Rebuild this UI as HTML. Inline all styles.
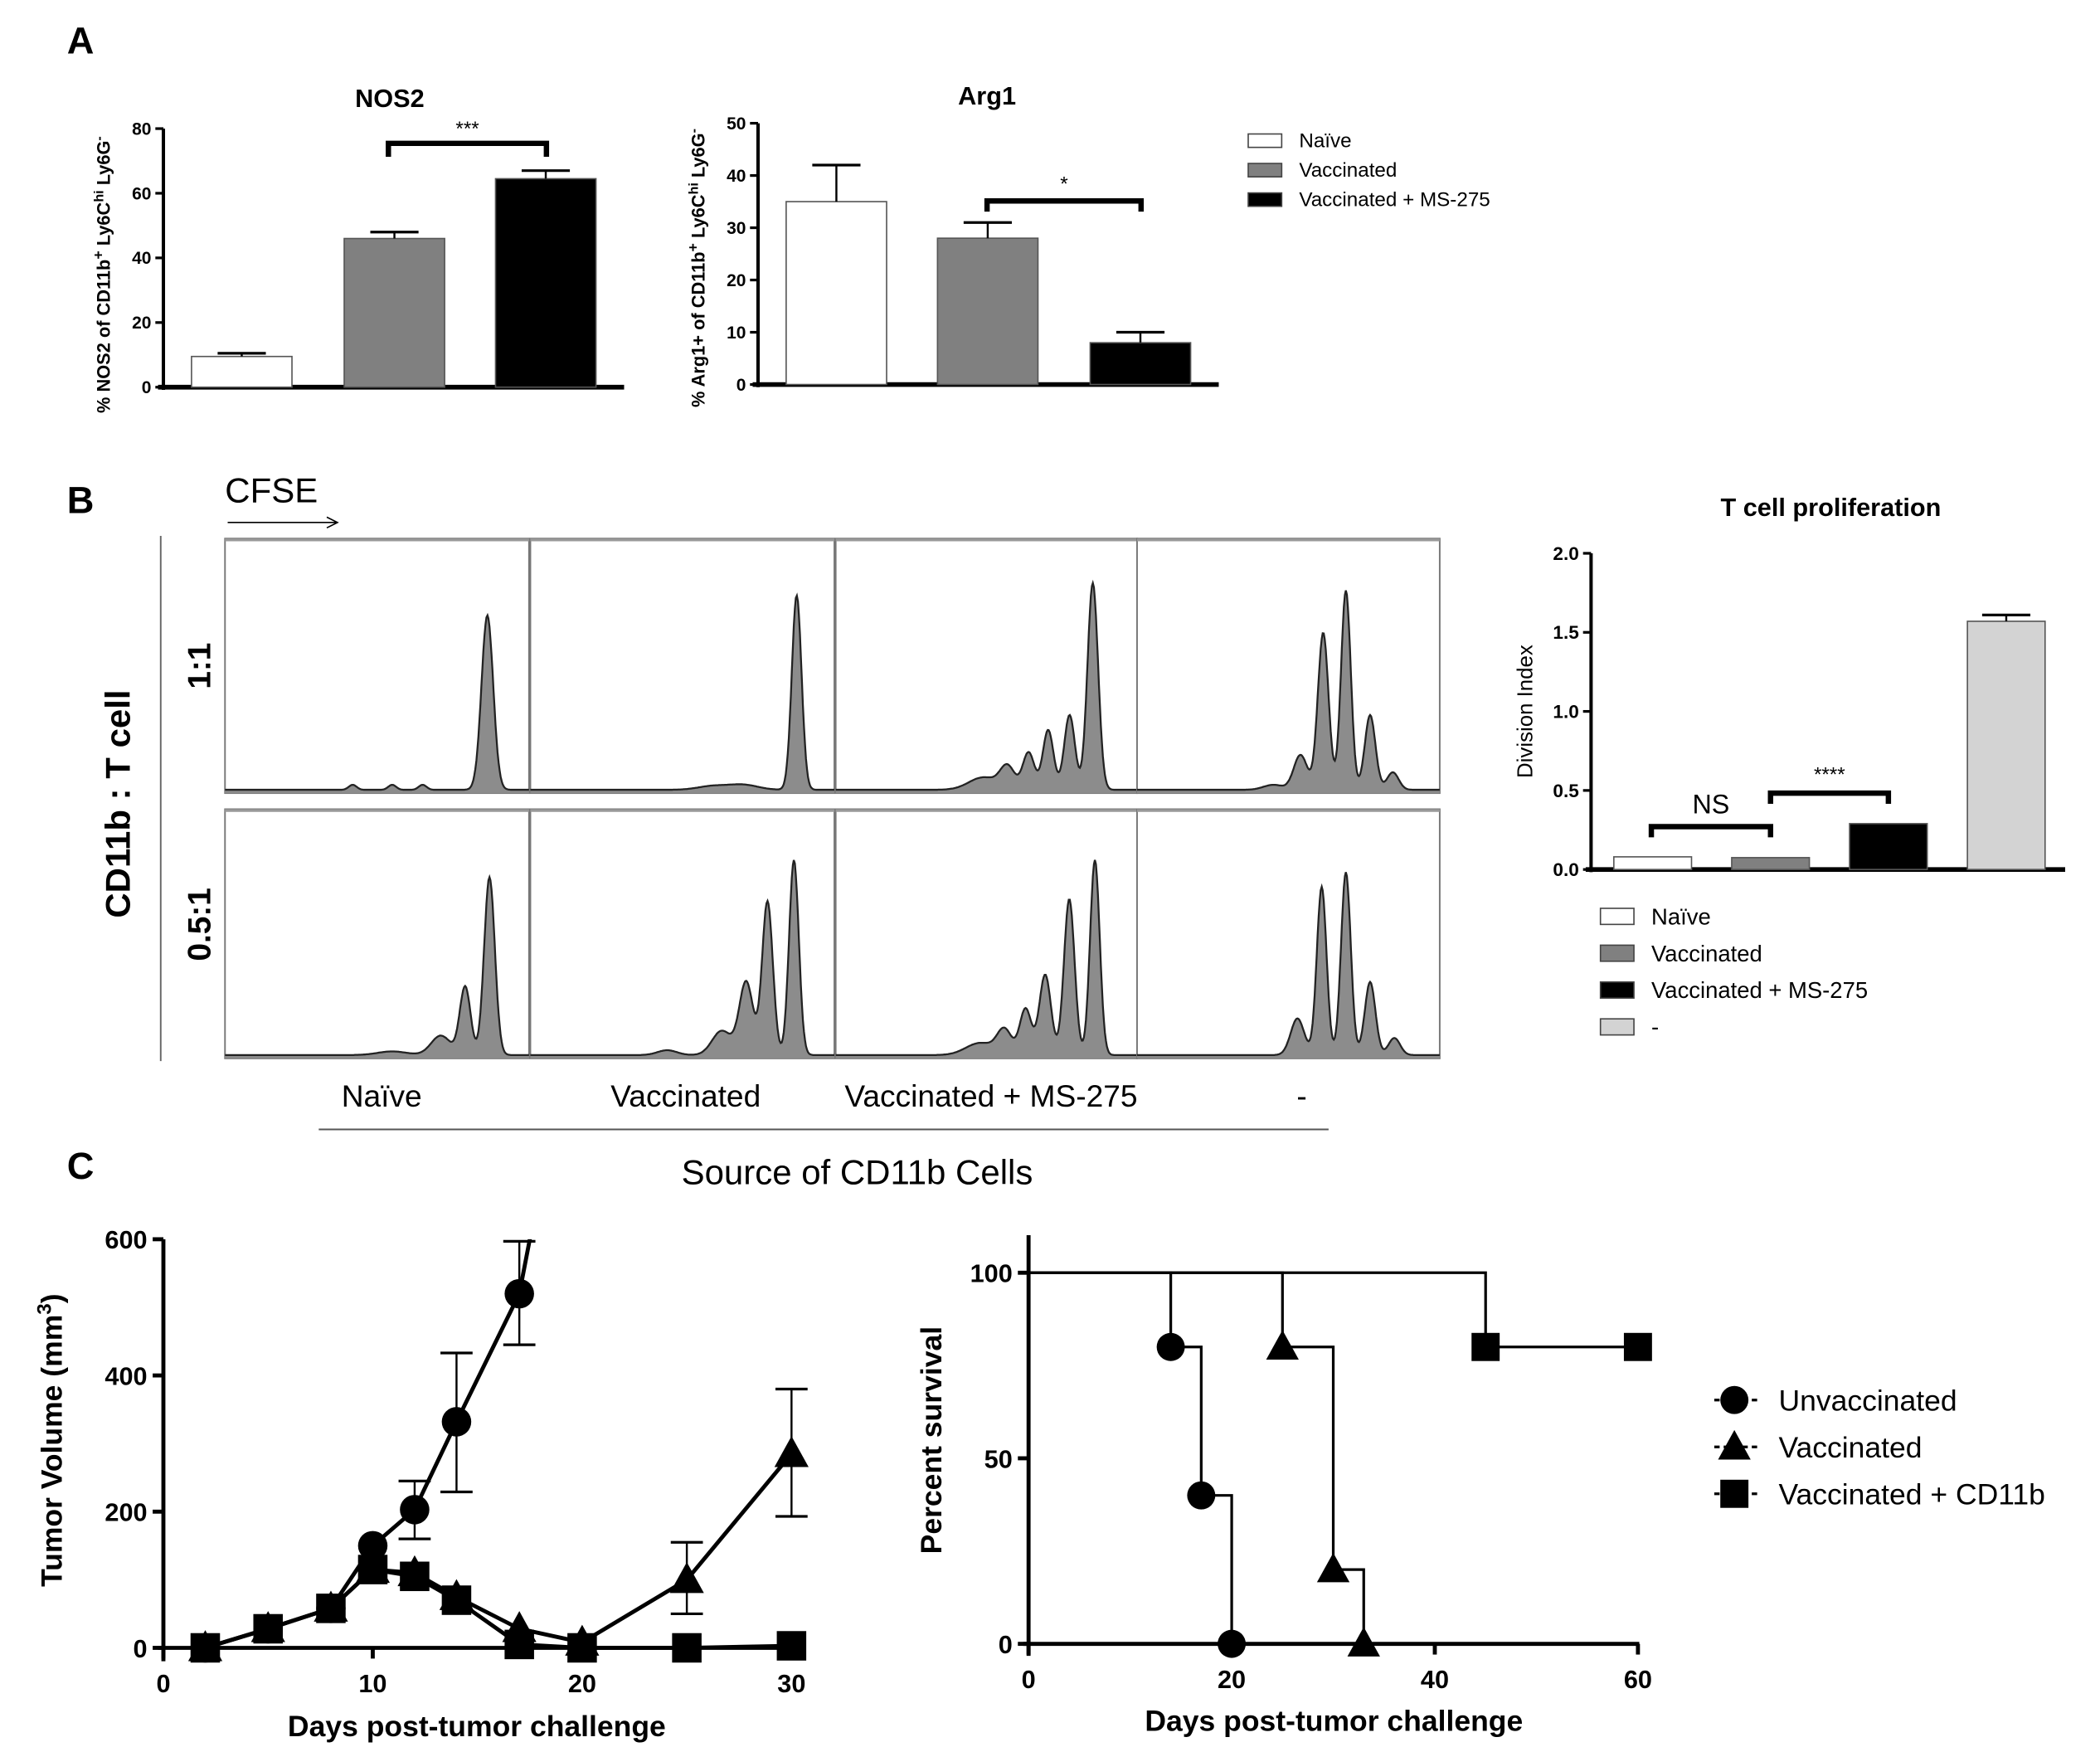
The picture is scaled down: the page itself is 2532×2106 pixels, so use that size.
<!DOCTYPE html>
<html><head><meta charset="utf-8">
<style>
html,body{margin:0;padding:0;background:#fff;}
svg{display:block;font-family:"Liberation Sans",Arial,sans-serif;}
</style></head>
<body>
<svg id="fig" width="2532" height="2106" viewBox="0 0 1568 1304" preserveAspectRatio="none" xmlns="http://www.w3.org/2000/svg"></svg>
<script>
// ---------- DATA ----------
const groupsA = ["Naïve","Vaccinated","Vaccinated + MS-275"];
const nos2Values = [9.5, 46, 64.5];
const nos2Errors = [1, 2, 2.5];
const nos2Ticks = [0,20,40,60,80];
const arg1Values = [35, 28, 8];
const arg1Errors = [7, 3, 2];
const arg1Ticks = [0,10,20,30,40,50];
const groupsB = ["Naïve","Vaccinated","Vaccinated + MS-275","-"];
const divValues = [0.08, 0.075, 0.29, 1.57];
const divErrors = [0, 0, 0, 0.04];
const divTicks = ["0.0","0.5","1.0","1.5","2.0"];
// histogram peaks per panel: [position (0-1), height (0-1), width]
const histRow1 = [
 [[0.863,0.70,0.012],[0.42,0.02,0.008],[0.55,0.02,0.008],[0.65,0.02,0.008]],
 [[0.876,0.78,0.010],[0.6,0.015,0.03],[0.7,0.02,0.03]],
 [[0.853,0.83,0.011],[0.776,0.30,0.011],[0.705,0.24,0.011],[0.64,0.15,0.012],[0.57,0.09,0.015],[0.49,0.05,0.03]],
 [[0.69,0.80,0.010],[0.615,0.63,0.011],[0.77,0.30,0.011],[0.54,0.14,0.014],[0.845,0.07,0.012],[0.45,0.02,0.02]]
];
const histRow2 = [
 [[0.87,0.73,0.011],[0.79,0.28,0.011],[0.71,0.08,0.02],[0.55,0.015,0.03]],
 [[0.867,0.80,0.010],[0.78,0.63,0.011],[0.71,0.30,0.014],[0.63,0.10,0.02],[0.45,0.02,0.02]],
 [[0.86,0.80,0.010],[0.775,0.64,0.011],[0.695,0.33,0.012],[0.63,0.19,0.012],[0.56,0.10,0.015],[0.48,0.05,0.03]],
 [[0.61,0.69,0.010],[0.69,0.75,0.010],[0.77,0.30,0.011],[0.53,0.15,0.014],[0.85,0.07,0.012]]
];
const tumorDays = [2,5,8,10,12,14,17,20,25,30];
const tumorUnvDays = [2,5,8,10,12,14,17,18];
const tumorUnv = [0,28,58,150,203,332,520,680];
const tumorUnvErrHi = [0,0,0,0,245,433,597,0];
const tumorUnvErrLo = [0,0,0,0,160,229,445,0];
const tumorVac = [0,28,58,115,110,75,28,8,100,285];
const tumorVacErrHi = [0,0,0,0,0,0,0,0,155,380];
const tumorVacErrLo = [0,0,0,0,0,0,0,0,50,193];
const tumorCd = [0,28,58,115,105,70,5,0,0,3];
const tumorXTicks = [0,10,20,30];
const tumorYTicks = [0,200,400,600];
const survUnvT = [0,14,17,20];
const survUnvS = [100,80,40,0];
const survVacT = [0,25,30,33];
const survVacS = [100,80,20,0];
const survCdT = [0,45,60];
const survCdS = [100,80,80];
const survXTicks = [0,20,40,60];
const survYTicks = [0,50,100];

// ---------- HELPERS ----------
const NS="http://www.w3.org/2000/svg";
const svg=document.getElementById('fig');
function mk(tag,attrs,parent){const e=document.createElementNS(NS,tag);for(const k in attrs)e.setAttribute(k,attrs[k]);(parent||svg).appendChild(e);return e;}
function txt(s,x,y,attrs,parent){const e=mk('text',Object.assign({x:x,y:y},attrs),parent);e.textContent=s;return e;}
function lin(x1,y1,x2,y2,w,parent){return mk('line',{x1,y1,x2,y2,stroke:'#000','stroke-width':w||2},parent);}

// panel labels
[["A",50,40],["B",50,383],["C",50,880]].forEach(p=>{const t=txt(p[0],p[1],p[2],{'font-size':28,'font-weight':'bold'});

});

// ---------- BAR CHART FUNCTION ----------
function barChart(o){
 const g=mk('g',{});
 
 
 const y=v=>o.y0-(v-o.min)/(o.max-o.min)*(o.y0-o.y1);
 lin(o.ax,o.y1,o.ax,o.y0+2,2.5,g);
 lin(o.ax-4,o.y0,o.xEnd,o.y0,3.5,g);
 o.ticks.forEach(t=>{const v=parseFloat(t);lin(o.ax-6,y(v),o.ax,y(v),2,g);
  const tl=txt(String(t),o.ax-9,y(v)+o.fs*0.35,{'font-size':o.fs,'font-weight':'bold','text-anchor':'end'},g);
  
  });
 o.values.forEach((v,i)=>{
  const x=o.bx[i];
  const r=mk('rect',{x:x,y:y(v),width:o.bw,height:o.y0-y(v),fill:o.fills[i],stroke:'#555','stroke-width':1},g);
  
  
  if(o.errors[i]>0){const cx=x+o.bw/2;lin(cx,y(v),cx,y(v+o.errors[i]),1.5,g);lin(cx-18,y(v+o.errors[i]),cx+18,y(v+o.errors[i]),2,g);}
 });
 return {g,y};
}
function bracket(x1,x2,yy,d,label,ly,fs,g){
 const p=mk('path',{d:`M${x1},${yy+d} V${yy} H${x2} V${yy+d}`,fill:'none',stroke:'#000','stroke-width':4},g);
 
 
 const t=txt(label,(x1+x2)/2,ly,{'font-size':fs,'text-anchor':'middle'},g);
 
 
}
const fillsA=['#fff','#808080','#000'];

// NOS2
let c1=barChart({name:'nos2-chart',ax:122,y0:289,y1:96,min:0,max:80,ticks:nos2Ticks,xEnd:466,values:nos2Values,errors:nos2Errors,bx:[143,257,370],bw:75,fills:fillsA,fs:13});
let t1=txt('NOS2',291,80,{'font-size':19,'font-weight':'bold','text-anchor':'middle'});

bracket(290,408,107,10,'***',101,15,c1.g);
let yl1=txt('',0,0,{'font-size':13.5,'font-weight':'bold','text-anchor':'middle',transform:'translate(82,205) rotate(-90)'});
yl1.innerHTML='% NOS2 of CD11b<tspan dy="-5" font-size="11">+</tspan><tspan dy="5"> Ly6C</tspan><tspan dy="-5" font-size="10">hi</tspan><tspan dy="5"> Ly6G</tspan><tspan dy="-5" font-size="10">-</tspan>';


// Arg1
let c2=barChart({name:'arg1-chart',ax:566,y0:287,y1:92,min:0,max:50,ticks:arg1Ticks,xEnd:910,values:arg1Values,errors:arg1Errors,bx:[587,700,814],bw:75,fills:fillsA,fs:13});
let t2=txt('Arg1',737,78,{'font-size':19,'font-weight':'bold','text-anchor':'middle'});

bracket(737,852,150,8,'*',142,15,c2.g);
let yl2=txt('',0,0,{'font-size':13.5,'font-weight':'bold','text-anchor':'middle',transform:'translate(526,200) rotate(-90)'});
yl2.innerHTML='% Arg1+ of CD11b<tspan dy="-5" font-size="11">+</tspan><tspan dy="5"> Ly6C</tspan><tspan dy="-5" font-size="10">hi</tspan><tspan dy="5"> Ly6G</tspan><tspan dy="-5" font-size="10">-</tspan>';


// legend A
groupsA.forEach((n,i)=>{const yy=100+i*22;
 const r=mk('rect',{x:932,y:yy,width:25,height:10,fill:fillsA[i],stroke:'#444','stroke-width':1});
 
 const t=txt(n,970,yy+10,{'font-size':15});
 });

// ---------- PANEL B HISTOGRAMS ----------
let cf=txt('CFSE',168,375,{'font-size':26});

let ar=mk('path',{d:'M170,390 H252 M244,386 L252,390 L244,394',fill:'none',stroke:'#000','stroke-width':1});

let vl=mk('line',{x1:120,y1:400,x2:120,y2:792,stroke:'#666','stroke-width':1.2});

let rl=txt('CD11b : T cell',0,0,{'font-size':26,'font-weight':'bold','text-anchor':'middle',transform:'translate(97,600) rotate(-90)'});

let r1=txt('1:1',0,0,{'font-size':24,'font-weight':'bold','text-anchor':'middle',transform:'translate(157,497) rotate(-90)'});

let r2=txt('0.5:1',0,0,{'font-size':24,'font-weight':'bold','text-anchor':'middle',transform:'translate(157,690) rotate(-90)'});


const colX=[[168,395],[396,623],[624,849],[849,1075]];
function hist(peaks,x0,x1,yTop,yBot,name){
 const g=mk('g',{});
 
 
 mk('rect',{x:x0,y:yTop,width:x1-x0,height:yBot-yTop,fill:'#fff',stroke:'#777','stroke-width':1.2},g);
 lin(x0,yTop+1,x1,yTop+1,2,g).setAttribute('stroke','#999');
 const H=yBot-yTop-4;let pts=[];
 for(let i=0;i<=300;i++){const f=i/300;let v=0.008;
  peaks.forEach(p=>{v+=p[1]*Math.exp(-0.5*Math.pow((f-p[0])/(p[2]*1.6),2));});
  pts.push([x0+f*(x1-x0),yBot-1-Math.min(v,1)*H]);}
 const d='M'+pts.map(p=>p[0].toFixed(1)+','+p[1].toFixed(1)).join(' L');
 mk('path',{d:d+` L${x1},${yBot} L${x0},${yBot} Z`,fill:'#8c8c8c',stroke:'none'},g);
 mk('path',{d:d,fill:'none',stroke:'#222','stroke-width':1.4},g);
}
histRow1.forEach((pk,i)=>hist(pk,colX[i][0],colX[i][1],402,592,'histogram-1-1-'+i));
histRow2.forEach((pk,i)=>hist(pk,colX[i][0],colX[i][1],604,790,'histogram-0-5-1-'+i));
const colLabX=[285,512,740,972];
groupsB.forEach((n,i)=>{const t=txt(n,colLabX[i],826,{'font-size':23,'text-anchor':'middle'});
 });
let sl=mk('line',{x1:238,y1:843,x2:992,y2:843,stroke:'#555','stroke-width':1.2});

let st=txt('Source of CD11b Cells',640,884,{'font-size':26,'text-anchor':'middle'});


// T cell proliferation
let c3=barChart({name:'division-index-chart',ax:1188,y0:649,y1:413,min:0,max:2,ticks:divTicks,xEnd:1542,values:divValues,errors:divErrors,bx:[1205,1293,1381,1469],bw:58,fills:['#fff','#808080','#000','#d3d3d3'],fs:14});
let t3=txt('T cell proliferation',1367,385,{'font-size':19,'font-weight':'bold','text-anchor':'middle'});

bracket(1233,1322,617,8,'NS',607,20,c3.g);
bracket(1322,1410,592,8,'****',583,15,c3.g);
let yl3=txt('Division Index',0,0,{'font-size':16,'text-anchor':'middle',transform:'translate(1144,531) rotate(-90)'});

const fillsB=['#fff','#808080','#000','#d3d3d3'];
groupsB.forEach((n,i)=>{const yy=678+i*27.5;
 const r=mk('rect',{x:1195,y:yy,width:25,height:12,fill:fillsB[i],stroke:'#444','stroke-width':1});
 
 const t=txt(n,1233,yy+12,{'font-size':17});
 });

// ---------- PANEL C ----------
function marker(shape,cx,cy,s,g){
 let e;
 if(shape==='circle')e=mk('circle',{cx:cx,cy:cy,r:s/2,fill:'#000'},g);
 else if(shape==='square')e=mk('rect',{x:cx-s/2,y:cy-s/2,width:s,height:s,fill:'#000'},g);
 else e=mk('path',{d:`M${cx},${cy-s*0.6} L${cx+s*0.58},${cy+s*0.45} L${cx-s*0.58},${cy+s*0.45} Z`,fill:'#000'},g);
 return e;
}
// tumor volume
(function(){
 const g=mk('g',{});
 
 
 const X=d=>122+d/30*(591-122), Y=v=>1230-v/600*(1230-925);
 const clip=mk('clipPath',{id:'tclip'},g);mk('rect',{x:100,y:925,width:520,height:330},clip);
 lin(122,925,122,1240,3,g);lin(118,1230,592,1230,3,g);
 tumorYTicks.forEach(t=>{lin(114,Y(t),122,Y(t),3,g);const l=txt(String(t),110,Y(t)+7,{'font-size':19,'font-weight':'bold','text-anchor':'end'},g);
  });
 tumorXTicks.forEach(t=>{lin(X(t),1230,X(t),1238,3,g);const l=txt(String(t),X(t),1263,{'font-size':19,'font-weight':'bold','text-anchor':'middle'},g);
  });
 const cg=mk('g',{'clip-path':'url(#tclip)'},g);
 function series(days,vals,hi,lo,shape,name){
  const sg=mk('g',{},cg);
  
  
  mk('polyline',{points:days.map((d,i)=>X(d)+','+Y(vals[i])).join(' '),fill:'none',stroke:'#000','stroke-width':3},sg);
  days.forEach((d,i)=>{ if(hi&&hi[i]>0){lin(X(d),Y(lo[i]),X(d),Y(hi[i]),1.5,sg);lin(X(d)-12,Y(hi[i]),X(d)+12,Y(hi[i]),2,sg);lin(X(d)-12,Y(lo[i]),X(d)+12,Y(lo[i]),2,sg);}
   if(vals[i]<=600) marker(shape,X(d),Y(vals[i]),22,sg);});
 }
 series(tumorDays,tumorCd,null,null,'square','series-vaccinated-cd11b');
 series(tumorDays,tumorVac,tumorVacErrHi,tumorVacErrLo,'triangle','series-vaccinated');
 series(tumorUnvDays,tumorUnv,tumorUnvErrHi,tumorUnvErrLo,'circle','series-unvaccinated');
 const xt=txt('Days post-tumor challenge',356,1296,{'font-size':22,'font-weight':'bold','text-anchor':'middle'},g);
 
 const yt=txt('',0,0,{'font-size':22,'font-weight':'bold','text-anchor':'middle',transform:'translate(46,1075) rotate(-90)'},g);
 yt.innerHTML='Tumor Volume (mm<tspan dy="-8" font-size="15">3</tspan><tspan dy="8">)</tspan>';
 
})();
// survival
(function(){
 const g=mk('g',{});
 
 
 const X=t=>768+t/60*(1223-768), Y=s=>1227-s/100*(1227-950);
 lin(768,922,768,1236,3,g);lin(764,1227,1224,1227,3,g);
 survYTicks.forEach(t=>{lin(760,Y(t),768,Y(t),3,g);const l=txt(String(t),756,Y(t)+7,{'font-size':19,'font-weight':'bold','text-anchor':'end'},g);
  });
 survXTicks.forEach(t=>{lin(X(t),1227,X(t),1235,3,g);const l=txt(String(t),X(t),1260,{'font-size':19,'font-weight':'bold','text-anchor':'middle'},g);
  });
 function steps(T,S,shape,name){
  const sg=mk('g',{},g);
  
  
  let d=`M${X(T[0])},${Y(S[0])}`;
  for(let i=1;i<T.length;i++){d+=` H${X(T[i])} V${Y(S[i])}`;}
  mk('path',{d:d,fill:'none',stroke:'#000','stroke-width':2},sg);
  for(let i=1;i<T.length;i++)marker(shape,X(T[i]),Y(S[i]),21,sg);
 }
 steps(survCdT,survCdS,'square','survival-vaccinated-cd11b');
 steps(survVacT,survVacS,'triangle','survival-vaccinated');
 steps(survUnvT,survUnvS,'circle','survival-unvaccinated');
 const xt=txt('Days post-tumor challenge',996,1292,{'font-size':22,'font-weight':'bold','text-anchor':'middle'},g);
 
 const yt=txt('Percent survival',0,0,{'font-size':22,'font-weight':'bold','text-anchor':'middle',transform:'translate(703,1075) rotate(-90)'},g);
 
 const names=['Unvaccinated','Vaccinated','Vaccinated + CD11b'],shapes=['circle','triangle','square'];
 names.forEach((n,i)=>{const yy=1045+i*35;
  const lg=mk('g',{},g);
  
  
  mk('line',{x1:1280,y1:yy,x2:1312,y2:yy,stroke:'#000','stroke-width':2,'stroke-dasharray':'4,3'},lg);
  marker(shapes[i],1295,yy,21,lg);
  txt(n,1328,yy+8,{'font-size':22},lg);});
})();
</script>
</body></html>
